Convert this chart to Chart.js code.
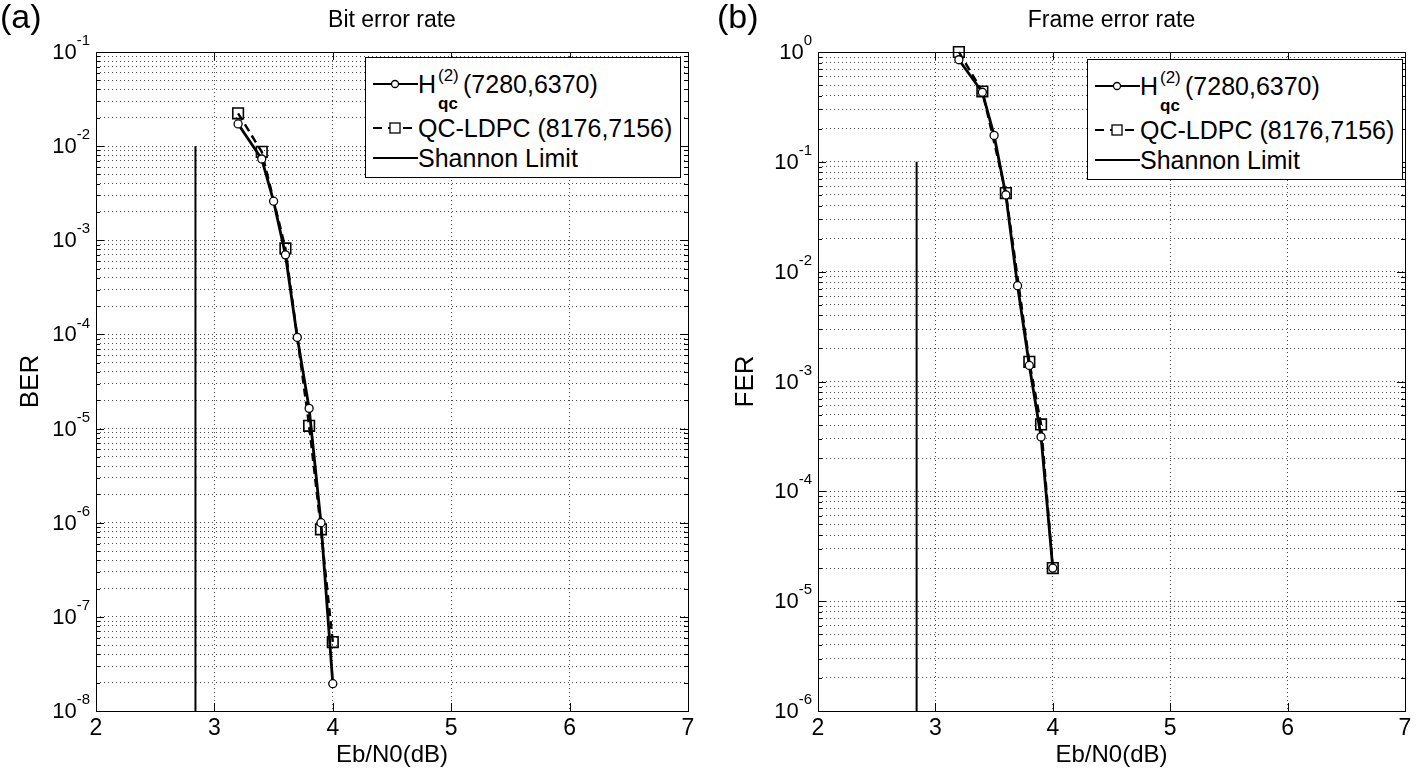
<!DOCTYPE html>
<html>
<head>
<meta charset="utf-8">
<script src="https://cdn.jsdelivr.net/npm/chart.js@4/dist/chart.umd.min.js"></script>
<style>
  body { margin: 0; background: #fff; }
  #wrap { position: relative; width: 1416px; height: 775px; overflow: hidden; background: #fff;
          font-family: "Liberation Sans", Arial, sans-serif; color: #000; }
  .panel { position: absolute; top: 0; width: 708px; height: 775px; }
  .tag { position: absolute; top: -3px; font-size: 34px; }
  .legend { position: absolute; width: 314px; height: 119px; border: 1px solid #000; background: #fff; font-size: 25px; }
  .legend svg { position: absolute; left: 7px; }
  .legend .t { position: absolute; white-space: nowrap; line-height: 28px; }
</style>
</head>
<body>
<div id="wrap">
  <div class="panel" style="left:0"><canvas id="ber"></canvas></div>
  <div class="panel" style="left:708px"><canvas id="fer"></canvas></div>
  <div class="tag" style="left:0">(a)</div>
  <div class="tag" style="left:717px">(b)</div>
  <div class="legend" id="legA" style="left:365px;top:57px"></div>
  <div class="legend" id="legB" style="left:1087px;top:59px"></div>
</div>
<script>
/* BER / FER curves for two QC-LDPC codes. */

const X_TICKS = [2, 3, 4, 5, 6, 7];
const BER_EXPONENTS = [-8, -7, -6, -5, -4, -3, -2, -1];
const FER_EXPONENTS = [-6, -5, -4, -3, -2, -1, 0];

const H_EBN0 = [3.2, 3.4, 3.5, 3.6, 3.7, 3.8, 3.9, 4.0];
const H_BER = [1.72e-2, 7.3e-3, 2.6e-3, 7.0e-4, 9.3e-5, 1.64e-5, 1.0e-6, 1.95e-8];
const H_FER = [0.85, 0.43, 0.174, 0.05, 7.45e-3, 1.4e-3, 3.13e-4, 2.0e-5];

const QC_EBN0 = [3.2, 3.4, 3.6, 3.8, 3.9, 4.0];
const QC_BER = [2.23e-2, 8.7e-3, 8.2e-4, 1.07e-5, 8.5e-7, 5.4e-8];
const QC_FER = [1.0, 0.437, 0.052, 1.51e-3, 4.07e-4, 2.0e-5];

const SHANNON_EBN0 = 2.84;
const SHANNON_BER = [1e-2, 1e-8];
const SHANNON_FER = [1e-1, 1e-6];

const FONT = "'Liberation Sans', Arial, sans-serif";

function logTicks(exps) {
  const out = [];
  for (let i = 0; i < exps.length - 1; i++)
    for (let m = 1; m <= 9; m++) out.push(parseFloat(m + "e" + exps[i]));
  out.push(parseFloat("1e" + exps[exps.length - 1]));
  return out;
}
function isPow10(v) { const e = Math.log10(v); return Math.abs(e - Math.round(e)) < 1e-9; }
function pts(xs, ys) { return xs.map((x, i) => ({ x, y: ys[i] })); }

// box around the plot area + inward tick marks, like the original
const frame = {
  id: "frame",
  beforeDatasetsDraw(chart) {
    const { ctx, chartArea: a, scales: { x, y } } = chart;
    ctx.save();
    ctx.strokeStyle = "#000"; ctx.lineWidth = 1; ctx.setLineDash([]);
    ctx.beginPath();
    y.ticks.forEach(t => {
      const py = Math.round(y.getPixelForValue(t.value)) + 0.5;
      const len = isPow10(t.value) ? 8 : 4;
      ctx.moveTo(a.left, py); ctx.lineTo(a.left + len, py);
      ctx.moveTo(a.right, py); ctx.lineTo(a.right - len, py);
    });
    x.ticks.forEach(t => {
      const px = Math.round(x.getPixelForValue(t.value)) + 0.5;
      ctx.moveTo(px, a.bottom); ctx.lineTo(px, a.bottom - 8);
      ctx.moveTo(px, a.top); ctx.lineTo(px, a.top + 8);
    });
    ctx.stroke();
    ctx.strokeRect(Math.round(a.left) + 0.5, Math.round(a.top) + 0.5,
                   Math.round(a.right - a.left), Math.round(a.bottom - a.top));
    ctx.restore();
  },
};

// "10" with a raised exponent for each decade tick
const powerLabels = {
  id: "powerLabels",
  afterDraw(chart) {
    const { ctx, chartArea: a, scales: { y } } = chart;
    ctx.save();
    ctx.fillStyle = "#000"; ctx.textAlign = "right"; ctx.textBaseline = "middle";
    y.ticks.forEach(t => {
      if (!isPow10(t.value)) return;
      const exp = String(Math.round(Math.log10(t.value)));
      const py = y.getPixelForValue(t.value);
      const x0 = a.left - 6;
      ctx.font = "15px " + FONT;
      const ew = ctx.measureText(exp).width;
      ctx.fillText(exp, x0, py - 11);
      ctx.font = "22px " + FONT;
      ctx.fillText("10", x0 - ew, py + 1);
    });
    ctx.restore();
  },
};

function makeChart(id, o) {
  const yTicks = logTicks(o.exps);
  return new Chart(document.getElementById(id), {
    type: "line",
    data: {
      datasets: [
        { label: "H", data: pts(H_EBN0, o.h), borderColor: "#000", borderWidth: 2.8,
          pointStyle: "circle", pointRadius: 4, pointBorderWidth: 1.3,
          pointBackgroundColor: "#fff", pointBorderColor: "#000", clip: false },
        { label: "QC", data: pts(QC_EBN0, o.qc), borderColor: "#000", borderWidth: 2.4,
          borderDash: [8, 5], pointStyle: "rect", pointRadius: 7.5, pointBorderWidth: 1.6,
          pointBackgroundColor: "rgba(255,255,255,0)", pointBorderColor: "#000", clip: false },
        { label: "Shannon", data: pts([SHANNON_EBN0, SHANNON_EBN0], o.shannon),
          borderColor: "#000", borderWidth: 2, pointRadius: 0 },
      ],
    },
    options: {
      responsive: true, maintainAspectRatio: false, animation: false, events: [],
      layout: { padding: { left: 0, right: o.padRight, top: 0, bottom: 0 } },
      plugins: {
        legend: { display: false }, tooltip: { enabled: false },
        title: { display: true, text: o.title, color: "#000", fullSize: false,
                 font: { family: FONT, size: 23, weight: "normal" },
                 padding: { top: 7, bottom: 17.4 } },
      },
      scales: {
        x: {
          type: "linear", min: 2, max: 7,
          afterBuildTicks: s => { s.ticks = X_TICKS.map(v => ({ value: v })); },
          afterFit: s => { s.height = 64; },
          ticks: { color: "#000", padding: 4, font: { family: FONT, size: 23 } },
          grid: { color: "rgba(0,0,0,0.7)", lineWidth: 1, drawTicks: false },
          border: { display: false, dash: [1, 3] },
          title: { display: true, text: "Eb/N0(dB)", color: "#000",
                   font: { family: FONT, size: 24 }, padding: { top: 0, bottom: 5 } },
        },
        y: {
          type: "logarithmic",
          min: yTicks[0], max: yTicks[yTicks.length - 1],
          afterBuildTicks: s => { s.ticks = yTicks.map(v => ({ value: v })); },
          afterFit: s => { s.width = o.yWidth; },
          ticks: { display: false, autoSkip: false },
          grid: { color: "rgba(0,0,0,0.7)", lineWidth: 1, drawTicks: false },
          border: { display: false, dash: [1, 3] },
          title: { display: true, text: o.ylabel, color: "#000",
                   font: { family: FONT, size: 26 }, padding: { top: o.yTitlePad, bottom: 0 } },
        },
      },
    },
    plugins: [frame, powerLabels],
  });
}

function legendHTML() {
  return `
    <svg width="46" height="20" style="top:16px"><line x1="0" y1="10" x2="45" y2="10" stroke="#000" stroke-width="1.8"/>
      <circle cx="22" cy="10" r="3.5" fill="#fff" stroke="#000" stroke-width="1.3"/></svg>
    <span class="t" style="left:52px;top:12px">H</span>
    <span class="t" style="left:72px;top:9px;font-size:17px;line-height:17px">(2)</span>
    <span class="t" style="left:72px;top:37px;font-size:17px;line-height:17px;font-weight:bold">qc</span>
    <span class="t" style="left:97px;top:12px">(7280,6370)</span>
    <svg width="46" height="20" style="top:60px"><line x1="0" y1="10" x2="45" y2="10" stroke="#000" stroke-width="1.8" stroke-dasharray="9,6"/>
      <rect x="17" y="5" width="10" height="10" fill="#fff" stroke="#000" stroke-width="1.3"/></svg>
    <span class="t" style="left:52px;top:56px">QC-LDPC (8176,7156)</span>
    <svg width="46" height="20" style="top:90px"><line x1="0" y1="10" x2="45" y2="10" stroke="#000" stroke-width="1.8"/></svg>
    <span class="t" style="left:52px;top:86px">Shannon Limit</span>`;
}
document.getElementById("legA").innerHTML = legendHTML();
document.getElementById("legB").innerHTML = legendHTML();

makeChart("ber", { title: "Bit error rate", ylabel: "BER", exps: BER_EXPONENTS,
  h: H_BER, qc: QC_BER, shannon: SHANNON_BER, padRight: 20, yWidth: 96, yTitlePad: 15 });
makeChart("fer", { title: "Frame error rate", ylabel: "FER", exps: FER_EXPONENTS,
  h: H_FER, qc: QC_FER, shannon: SHANNON_FER, padRight: 11, yWidth: 110, yTitlePad: 22 });
</script>
</body>
</html>
